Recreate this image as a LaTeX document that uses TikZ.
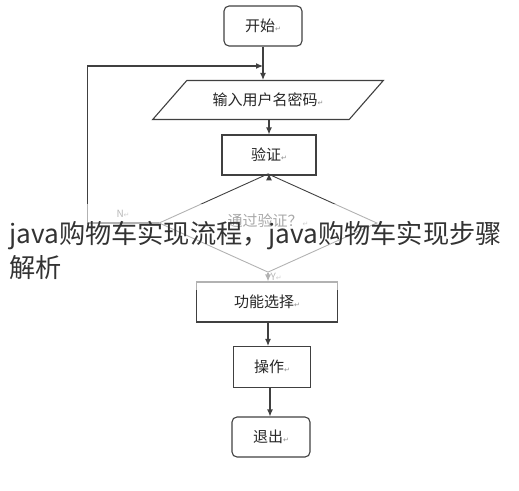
\documentclass[tikz,border=0pt]{standalone}
\usepackage{fontspec}
\setmainfont{Noto Sans CJK SC}
\newfontfamily\retfont{DejaVu Sans}
\usetikzlibrary{shapes.geometric, arrows.meta}

\newcommand{\ret}{{\retfont\fontsize{7}{7}\selectfont\color{black!45}↵}}

\tikzset{
  base/.style = {draw=black!75, line width=1.1pt, text=black!85,
                 font=\fontsize{15}{17}\selectfont},
  term/.style = {base, rounded corners=5pt, minimum width=78pt, minimum height=40pt},
  proc/.style = {base, minimum height=40pt},
  io/.style   = {base, trapezium, trapezium left angle=40, trapezium right angle=140,
                 trapezium stretches=true, minimum width=231pt, minimum height=39pt},
  test/.style = {base, diamond, line width=0.9pt, minimum width=218pt,
                 minimum height=67pt, inner sep=0pt},
  flow/.style = {-{Latex[length=7pt, width=6pt]}, draw=black!75, line width=1.1pt},
  yn/.style   = {font=\fontsize{10}{10}\selectfont, text=black!70, inner sep=2pt},
  wm/.style   = {font=\fontsize{26.2}{34}\selectfont, text=black!80, align=left, inner sep=0pt}
}

\begin{document}
\begin{tikzpicture}[x=1pt, y=-1pt]
\useasboundingbox (0,0) rectangle (519,490);

% flowchart
\node[term] (start) at (263,26) {开始\ret};
\node[io] (input) at (268,100) {输入用户名密码\ret};
\node[proc, minimum width=94pt] (check) at (269,155) {验证\ret};
\node[test] (pass) at (268,223) {\raisebox{5pt}{通过验证？\ret}};
\node[proc, minimum width=141pt] (menu) at (267,302) {功能选择\ret};
\node[proc, minimum width=77pt, minimum height=41pt] (oper) at (272,367) {操作\ret};
\node[term] (quit) at (271,437) {退出\ret};
\coordinate (join) at (263,66);

\draw [flow] (start.south) -- (start.south |- input.north);
\draw [flow] (input.south -| check.north) -- (check.north);
\draw [flow] (check.south) -- (check.south |- pass.north);
\draw [flow] (pass.south) -- node[yn, right, pos=.5]{Y\ret} (pass.south |- menu.north);
\draw [flow] (menu.south -| 268,0) -- (oper.north -| 268,0);
\draw [flow] (oper.south -| 270,0) -- (quit.north -| 270,0);
\draw [flow] (pass.west) -- node[yn, above, pos=.5, yshift=3pt]{N\ret} ++(-71,0) |- (join);

% overlaid caption
\fill [white, opacity=0.6] (0,204) rectangle (519,290);
\node[wm, anchor=north west] (caption) at (9,221) {java购物车实现流程，java购物车实现步骤\\解析};
\end{tikzpicture}
\end{document}
